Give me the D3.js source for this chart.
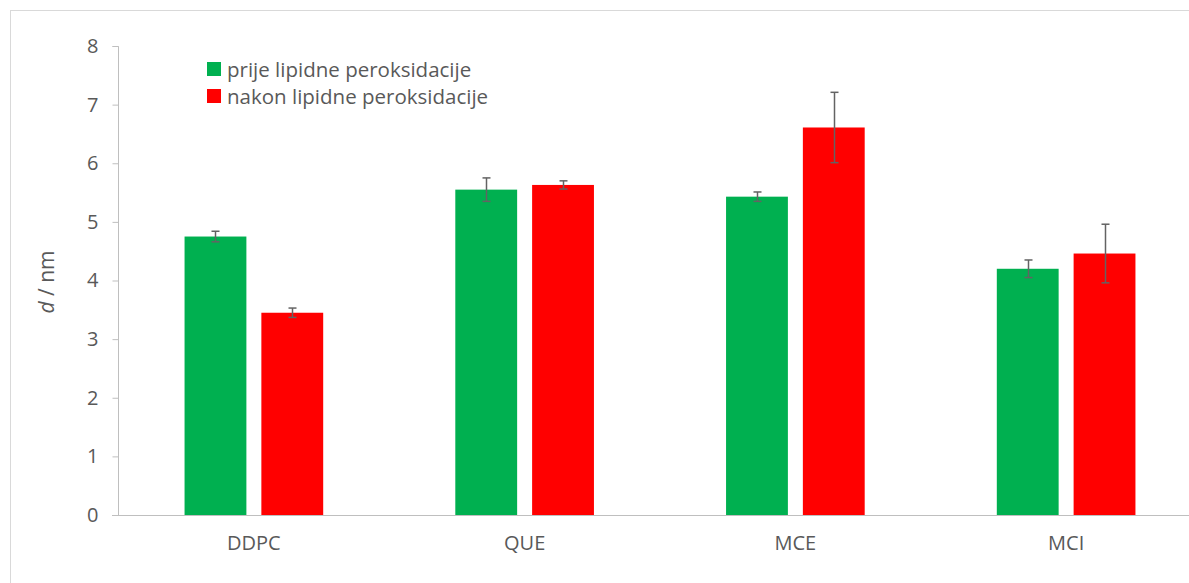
<!DOCTYPE html>
<html><head><meta charset="utf-8">
<script src="https://cdn.jsdelivr.net/npm/d3@7"></script>
<style>body{margin:0;background:#fff}svg{display:block}text{font-family:"Open Sans",sans-serif;fill:#595959}</style>
</head><body>
<svg id="c" width="1189" height="583"></svg>
<script>
const categories = ["DDPC","QUE","MCE","MCI"];
const seriesNames = ["prije lipidne peroksidacije","nakon lipidne peroksidacije"];
const seriesColors = ["#00B050","#FF0000"];
const before = [4.75,5.55,5.43,4.20];
const beforeErr = [0.09,0.20,0.08,0.15];
const after = [3.45,5.63,6.61,4.46];
const afterErr = [0.08,0.07,0.60,0.50];
const yTicks = [0,1,2,3,4,5,6,7,8];

const svg = d3.select("#c");
svg.append("rect").attr("x",10.5).attr("y",10.5).attr("width",1200).attr("height",600)
  .attr("fill","none").attr("stroke","#d9d9d9");

const y = d3.scaleLinear().domain([0,8]).range([515,46]);
const x = d3.scaleBand().domain(categories).range([118.5,1201.5]).paddingInner(0).paddingOuter(0);
const xs = d3.scaleBand().domain([0,1]).range([0,x.bandwidth()]).paddingInner(0.195).paddingOuter(0.86);

// y axis
const ya = svg.append("g").attr("transform","translate(118.5,0)")
  .call(d3.axisLeft(y).tickValues(yTicks).tickSize(6).tickPadding(14).tickFormat(d3.format("d")));
ya.select(".domain").attr("stroke","#bfbfbf").attr("d","M-6,46.5H0V515");
ya.selectAll(".tick line").attr("stroke","#bfbfbf");
ya.selectAll(".tick text").style("font-size","20px").attr("fill","#595959");

const series = [{v:before,e:beforeErr},{v:after,e:afterErr}];
series.forEach((s,si)=>{
  const g = svg.append("g");
  g.selectAll("rect").data(categories).join("rect")
    .attr("x",(c)=>x(c)+xs(si)).attr("width",xs.bandwidth())
    .attr("y",(c,i)=>y(s.v[i])).attr("height",(c,i)=>y(0)-y(s.v[i]))
    .attr("fill",seriesColors[si]);
});
// x axis
const xa = svg.append("g").attr("transform","translate(0,515.5)")
  .call(d3.axisBottom(x).tickSize(0).tickPadding(20));
xa.select(".domain").attr("stroke","#bfbfbf").attr("d","M112,0H1201");
xa.selectAll(".tick text").style("font-size","20px").attr("fill","#595959");

// error bars
series.forEach((s,si)=>{
  const g = svg.append("g").attr("stroke","#636363").attr("stroke-width",1.5);
  categories.forEach((c,i)=>{
    const cx = Math.round(x(c)+xs(si)+xs.bandwidth()/2)+0.5;
    const t = y(s.v[i]+s.e[i]), b = y(s.v[i]-s.e[i]);
    g.append("line").attr("x1",cx).attr("x2",cx).attr("y1",t).attr("y2",b);
    g.append("line").attr("x1",cx-4).attr("x2",cx+4).attr("y1",t).attr("y2",t);
    g.append("line").attr("x1",cx-4).attr("x2",cx+4).attr("y1",b).attr("y2",b);
  });
});

// legend
const lg = svg.append("g");
seriesNames.forEach((n,i)=>{
  lg.append("rect").attr("x",207).attr("y",62+i*27).attr("width",14).attr("height",14).attr("fill",seriesColors[i]);
  lg.append("text").attr("x",227).attr("y",77+i*27).style("font-size","20.5px").text(n);
});

// y label
const yl = svg.append("text").attr("transform","translate(54,282) rotate(-90)").attr("text-anchor","middle").style("font-size","21px");
yl.append("tspan").attr("font-style","italic").text("d");
yl.append("tspan").text(" / nm");
</script>
</body></html>
